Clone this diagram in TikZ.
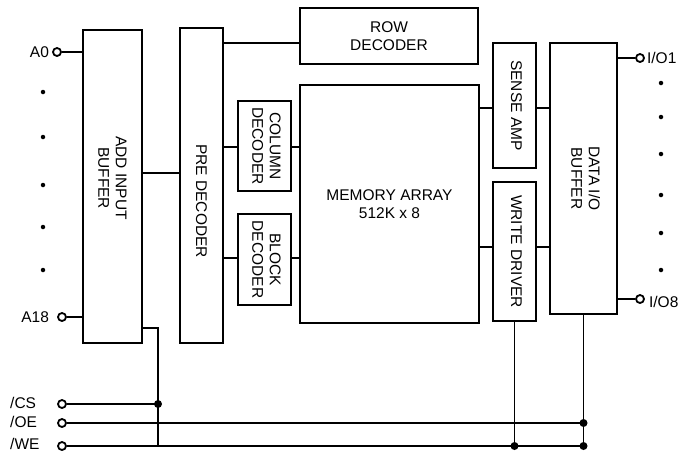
\documentclass[tikz,border=0pt]{standalone}
\usepackage{fontspec}
\setmainfont{Liberation Sans}
\usetikzlibrary{positioning,calc}
\newcommand{\fs}{\fontsize{15.5}{17.5}\selectfont}
\newcommand{\vtext}[1]{\rotatebox{-90}{\begin{tabular}{@{}c@{}}#1\end{tabular}}}
\tikzset{
  blk/.style={draw, line width=2.1pt, inner sep=0pt, align=center, font=\fs},
  txt/.style={inner sep=0pt, align=center, font=\fs},
  pin/.style={circle, draw, line width=1.8pt, fill=white, inner sep=0pt, minimum size=8pt},
  jdot/.style={circle, fill, inner sep=0pt, minimum size=8pt},
  sdot/.style={circle, fill, inner sep=0pt, minimum size=4.5pt},
  wire/.style={line width=1.6pt}
}

\begin{document}
\begin{tikzpicture}[x=1pt, y=-1pt]
        \useasboundingbox (0,0) rectangle (694,451);
        %blocks
        \node[blk, minimum width=59pt, minimum height=313pt] (add) at (112.5, 186.5) {};
        \node[txt, rotate=-90] (tadd) at (112.5, 178) {ADD INPUT\\BUFFER};
        \node[blk, minimum width=43pt, minimum height=315pt] (pre) at (201.5, 185.5) {};
        \node[txt, rotate=-90] (tpre) at (201.5, 201) {PRE DECODER};
        \node[blk, minimum width=178pt, minimum height=56pt] (row) at (389, 36) {ROW\\DECODER};
        \node[blk, minimum width=179pt, minimum height=238pt] (mem) at (389.5, 204) {MEMORY ARRAY\\512K x 8};
        \node[blk, minimum width=53pt, minimum height=90pt] (col) at (264.5, 146) {\vtext{COLUMN\\DECODER}};
        \node[blk, minimum width=53pt, minimum height=91pt] (blkdec) at (264.5, 259.5) {\vtext{BLOCK\\DECODER}};
        \node[blk, minimum width=43pt, minimum height=125pt] (sense) at (514.5, 105.5) {\vtext{SENSE AMP}};
        \node[blk, minimum width=43pt, minimum height=139pt] (write) at (514.5, 251.5) {\vtext{WRITE DRIVER}};
        \node[blk, minimum width=67pt, minimum height=271pt] (dio) at (583.5, 178.5) {\vtext{DATA I/O\\BUFFER}};
        %pins
        \node[pin, label={[txt, label distance=3pt]left:A0}] (a0) at (57, 52) {};
        \node[pin, label={[txt, label distance=8pt]left:A18}] (a18) at (62, 317) {};
        \node[pin] (cs) at (62, 404) {};
        \node[pin] (oe) at (62, 423) {};
        \node[pin] (we) at (62, 446) {};
        \node[txt, anchor=west] (lcs) at (10, 403) {/CS};
        \node[txt, anchor=west] (loe) at (10, 422) {/OE};
        \node[txt, anchor=west] (lwe) at (10, 443.5) {/WE};
        \node[pin, label={[txt, label distance=2pt]right:I/O1}] (io1) at (640, 58) {};
        \node[pin, label={[txt, label distance=4pt, yshift=-3pt]right:I/O8}] (io8) at (640, 299) {};
        \foreach \y in {92,137,185,227,270} \node[sdot] at (43, \y) {};
        \foreach \y in {83,117,154,195,233,270} \node[sdot] at (661, \y) {};
        %junctions
        \coordinate (csj) at (158, 404);
        \coordinate (oej) at (dio.south |- oe);
        \coordinate (wej) at (dio.south |- we);
        \coordinate (wrj) at (write.south |- we);
        %edges
        \draw[wire] (a0) -- (a0 -| add.west);
        \draw[wire] (a18) -- (a18 -| add.west);
        \draw[wire] (add.east |- 0,173) -- (pre.west |- 0,173);
        \draw[wire] (pre.east |- 0,43) -- (row.west |- 0,43);
        \draw[wire] (pre.east |- 0,147) -- (col.west |- 0,147);
        \draw[wire] (col.east |- 0,147) -- (mem.west |- 0,147);
        \draw[wire] (pre.east |- 0,258) -- (blkdec.west |- 0,258);
        \draw[wire] (blkdec.east |- 0,258) -- (mem.west |- 0,258);
        \draw[wire] (mem.east |- 0,108) -- (sense.west |- 0,108);
        \draw[wire] (sense.east |- 0,108) -- (dio.west |- 0,108);
        \draw[wire] (mem.east |- 0,247) -- (write.west |- 0,247);
        \draw[wire] (write.east |- 0,247) -- (dio.west |- 0,247);
        \draw[wire] (dio.east |- io1) -- (io1);
        \draw[wire] (dio.east |- io8) -- (io8);
        \draw[wire] (add.east |- 0,328) -| (csj |- we);
        \draw[wire] (cs) -- (csj);
        \draw[wire] (oe) -- (oej);
        \draw[wire] (we) -- (wej);
        \draw[wire] (write.south) -- (wrj);
        \draw[wire] (dio.south) -- (wej);
        \node[jdot] at (csj) {};
        \node[jdot] at (oej) {};
        \node[jdot] at (wej) {};
        \node[jdot] at (wrj) {};
\end{tikzpicture}
\end{document}
